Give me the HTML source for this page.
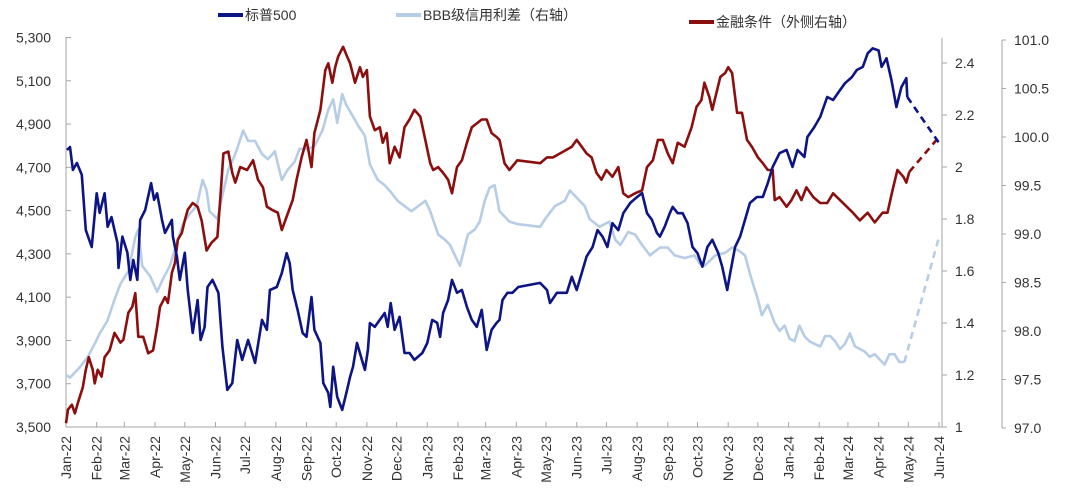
<!DOCTYPE html>
<html><head><meta charset="utf-8"><style>
body{margin:0;background:#fff;}
svg{display:block;font-family:"Liberation Sans","Noto Sans CJK SC",sans-serif;}
</style></head><body>
<svg id="chart" width="1080" height="499" viewBox="0 0 1080 499" xmlns="http://www.w3.org/2000/svg">
<g>
<g><line x1="218" y1="15" x2="243" y2="15" stroke="#0d1484" stroke-width="4"/><text x="245" y="20" font-size="14" fill="#333">标普500</text></g>
<g><line x1="396" y1="15" x2="421" y2="15" stroke="#b7cde6" stroke-width="4"/><text x="423" y="20" font-size="14" fill="#333">BBB级信用利差（右轴）</text></g>
<g><line x1="689" y1="22" x2="714" y2="22" stroke="#8b0f0f" stroke-width="4"/><text x="716" y="27" font-size="14" fill="#333">金融条件（外侧右轴）</text></g>
</g>
<g id="axes"></g>
<g id="series"></g>
</svg>
<script>
const monthLabels=["Jan-22","Feb-22","Mar-22","Apr-22","May-22","Jun-22","Jul-22","Aug-22","Sep-22","Oct-22","Nov-22","Dec-22","Jan-23","Feb-23","Mar-23","Apr-23","May-23","Jun-23","Jul-23","Aug-23","Sep-23","Oct-23","Nov-23","Dec-23","Jan-24","Feb-24","Mar-24","Apr-24","May-24","Jun-24"];
const monthDays=[0,31,59,90,120,151,181,212,243,273,304,334,365,396,424,455,485,516,546,577,608,638,669,699,730,761,790,821,851,882];
const leftTicks=[3500,3700,3900,4100,4300,4500,4700,4900,5100,5300];
const rightTicks=[1,1.2,1.4,1.6,1.8,2,2.2,2.4];
const outerTicks=[97.0,97.5,98.0,98.5,99.0,99.5,100.0,100.5,101.0];

const spDays=[1,4,7,11,16,20,26,31,34,39,42,46,52,53,57,62,65,68,72,75,80,86,89,92,97,100,107,108,112,115,120,123,128,133,136,140,143,148,154,158,163,168,173,178,184,191,198,203,206,213,218,223,226,229,234,239,243,248,251,257,260,265,267,270,274,279,284,287,290,294,299,302,305,307,312,317,322,325,328,332,337,342,347,352,360,365,370,375,378,381,386,390,395,400,405,410,415,420,425,430,435,438,441,446,451,457,479,486,489,496,506,511,516,521,526,532,537,542,547,552,558,563,570,577,582,587,592,597,600,605,610,613,618,623,628,633,638,643,648,653,659,663,668,671,676,681,686,691,698,704,709,714,721,728,734,739,746,749,756,762,769,775,782,787,794,799,805,810,815,821,824,829,834,839,844,849,850];
const spVals=[4780,4794,4688,4720,4665,4410,4332,4580,4490,4580,4425,4470,4350,4235,4380,4305,4180,4272,4180,4457,4503,4627,4550,4580,4457,4397,4457,4380,4288,4180,4305,4135,3935,4087,3902,3962,4147,4180,4120,3871,3672,3703,3902,3810,3902,3796,3995,3949,4133,4147,4211,4303,4257,4133,4041,3935,3917,4101,3949,3888,3703,3657,3593,3778,3639,3579,3672,3732,3778,3888,3810,3764,3856,3980,3963,3995,4027,3963,4073,3949,4009,3842,3842,3810,3842,3888,3995,3981,3917,4027,4087,4180,4120,4133,4055,3995,3963,4041,3856,3949,3981,3995,4087,4120,4120,4147,4166,4133,4073,4120,4120,4194,4133,4211,4288,4332,4410,4380,4332,4442,4410,4488,4535,4563,4581,4488,4457,4397,4380,4427,4488,4517,4488,4488,4442,4332,4303,4241,4332,4365,4303,4241,4133,4211,4332,4380,4457,4535,4563,4563,4627,4702,4766,4780,4702,4780,4748,4840,4886,4933,5025,5011,5057,5089,5117,5150,5164,5227,5250,5240,5164,5204,5102,4979,5071,5112,5025];
const spForecastDays=[850,882];
const spForecastVals=[5025,4813];

const bbbDays=[0,4,14,22,29,34,42,49,55,63,70,73,77,85,92,98,105,113,118,125,132,138,142,145,153,158,164,171,179,184,191,198,204,211,218,224,231,236,244,251,259,265,270,274,279,283,289,295,302,307,315,322,329,335,342,349,356,363,368,376,383,388,393,398,406,413,418,423,428,433,438,443,448,457,479,484,494,504,509,514,519,524,529,539,549,555,560,568,575,582,590,600,608,615,625,635,640,645,656,666,673,679,686,691,699,703,709,716,721,726,731,736,741,746,751,756,762,767,772,777,782,787,792,797,802,807,812,817,822,827,832,837,842,847];
const bbbVals=[1.20,1.19,1.23,1.27,1.32,1.36,1.41,1.49,1.55,1.60,1.73,1.76,1.62,1.58,1.52,1.57,1.62,1.72,1.78,1.82,1.85,1.95,1.91,1.83,1.80,1.89,1.99,2.05,2.14,2.10,2.10,2.05,2.03,2.06,1.95,1.99,2.02,2.07,2.07,2.08,2.14,2.22,2.26,2.17,2.28,2.24,2.20,2.16,2.12,2.01,1.95,1.93,1.90,1.87,1.85,1.83,1.85,1.87,1.83,1.74,1.72,1.70,1.66,1.62,1.74,1.76,1.79,1.87,1.92,1.93,1.83,1.81,1.79,1.78,1.77,1.80,1.85,1.87,1.91,1.89,1.87,1.85,1.80,1.77,1.79,1.72,1.70,1.75,1.74,1.70,1.66,1.69,1.69,1.66,1.65,1.66,1.63,1.62,1.66,1.67,1.69,1.68,1.66,1.59,1.49,1.43,1.47,1.40,1.37,1.39,1.34,1.33,1.39,1.35,1.33,1.32,1.31,1.35,1.35,1.33,1.30,1.32,1.36,1.31,1.30,1.29,1.27,1.28,1.26,1.24,1.28,1.28,1.25,1.25];
const bbbForecastDays=[847,882];
const bbbForecastVals=[1.25,1.73];

const fciDays=[0,2,6,9,12,17,20,23,27,29,32,36,39,44,49,55,58,63,67,70,73,78,83,88,92,95,100,103,107,110,113,117,120,123,128,133,137,142,147,153,156,159,164,168,171,176,183,189,194,199,203,208,214,218,223,229,233,238,243,248,251,257,262,265,269,272,275,280,284,287,292,297,300,304,307,312,317,320,324,327,332,337,342,347,352,358,363,368,371,376,381,386,390,395,400,405,410,415,420,425,430,435,438,443,448,456,479,486,492,499,506,511,516,521,526,531,536,541,546,552,558,563,568,575,582,587,593,598,603,608,613,618,625,632,637,642,645,650,653,661,666,669,673,678,683,688,693,699,704,709,714,716,721,728,733,738,743,748,755,762,769,775,782,789,795,802,810,817,825,830,835,840,846,849,852];
const fciVals=[97.05,97.19,97.24,97.15,97.26,97.42,97.60,97.73,97.60,97.46,97.60,97.53,97.73,97.80,97.98,97.88,97.91,98.19,98.25,98.39,97.94,97.94,97.77,97.80,98.04,98.25,98.35,98.29,98.60,98.70,98.94,99.01,99.14,99.25,99.32,99.28,99.14,98.83,98.91,98.97,99.38,99.83,99.85,99.63,99.53,99.69,99.66,99.76,99.56,99.48,99.28,99.25,99.22,99.04,99.18,99.35,99.56,99.79,99.97,99.69,100.04,100.28,100.69,100.76,100.56,100.72,100.83,100.93,100.83,100.76,100.56,100.72,100.62,100.69,100.21,100.07,100.10,99.94,100.04,99.73,99.90,99.79,100.10,100.18,100.28,100.21,99.97,99.73,99.66,99.69,99.63,99.56,99.42,99.69,99.76,99.94,100.10,100.14,100.18,100.18,100.04,100.00,99.97,99.73,99.66,99.76,99.73,99.79,99.79,99.83,99.87,99.90,99.97,99.90,99.83,99.79,99.63,99.56,99.66,99.59,99.69,99.42,99.38,99.42,99.45,99.69,99.76,99.97,99.97,99.83,99.73,99.94,99.90,100.10,100.31,100.38,100.56,100.41,100.28,100.62,100.66,100.72,100.66,100.25,100.25,99.97,99.90,99.79,99.73,99.66,99.66,99.35,99.38,99.28,99.35,99.45,99.35,99.48,99.38,99.32,99.32,99.42,99.35,99.28,99.22,99.14,99.22,99.12,99.22,99.22,99.45,99.66,99.59,99.53,99.64];
const fciForecastDays=[852,882];
const fciForecastVals=[99.64,100.0];

const NS="http://www.w3.org/2000/svg";
const X0=66,X1=939,YB=427;
function xs(d){return X0+(d/882)*(X1-X0);}
function yL(v){return YB-(v-3500)/1800*(YB-37.5);}
function yR(v){return YB-(v-1)/1.4*(YB-63);}
function yO(v){return 428-(v-97)/4*(428-40);}
function mk(tag,attrs,parent){const e=document.createElementNS(NS,tag);for(const k in attrs)e.setAttribute(k,attrs[k]);parent.appendChild(e);return e;}
const axes=document.getElementById('axes');
const series=document.getElementById('series');
const AX="#a6a6a6",TX="#333";
// left axis
let l=mk('line',{x1:X0,y1:37,x2:X0,y2:YB,stroke:AX,'stroke-width':1},axes);


leftTicks.forEach(v=>{const y=yL(v);
 const t=mk('line',{x1:X0,y1:y,x2:X0+5,y2:y,stroke:AX},axes);
 
 
 const tx=mk('text',{x:51,y:y+5,'text-anchor':'end','font-size':14,fill:TX},axes);
 tx.textContent=v.toLocaleString('en-US');
 
 });
// bottom axis
let b=mk('line',{x1:X0,y1:YB,x2:947,y2:YB,stroke:AX},axes);


monthDays.forEach((d,i)=>{const x=xs(d);
 const t=mk('line',{x1:x,y1:YB,x2:x,y2:YB-5,stroke:AX},axes);
 
 
 const tx=mk('text',{x:0,y:0,'text-anchor':'end','font-size':14,fill:TX,transform:`translate(${x+5},436) rotate(-90)`},axes);
 tx.textContent=monthLabels[i];
 
 });
// right axis
let r=mk('line',{x1:942,y1:38,x2:942,y2:YB,stroke:AX},axes);


rightTicks.forEach(v=>{const y=yR(v);
 const t=mk('line',{x1:942,y1:y,x2:947,y2:y,stroke:AX},axes);
 
 
 const tx=mk('text',{x:955,y:y+5,'font-size':14,fill:TX},axes);
 tx.textContent=String(v);
 
 });
// outer axis
let o=mk('line',{x1:1002,y1:40,x2:1002,y2:428,stroke:AX},axes);


outerTicks.forEach(v=>{const y=yO(v);
 const t=mk('line',{x1:1002,y1:y,x2:1006,y2:y,stroke:AX},axes);
 
 
 const tx=mk('text',{x:1014,y:y+5,'font-size':14,fill:TX},axes);
 tx.textContent=v.toFixed(1);
 
 });
function line(days,vals,yf,color,dash,name){
 const pts=days.map((d,i)=>xs(d).toFixed(1)+','+yf(vals[i]).toFixed(1)).join(' ');
 const p=mk('polyline',{points:pts,fill:'none',stroke:color,'stroke-width':2.6,'stroke-linejoin':'round'},series);
 if(dash)p.setAttribute('stroke-dasharray','7,5');
 
 
}
line(bbbDays,bbbVals,yR,'#b7cde6',false,'bbb-spread-line');
line(bbbForecastDays,bbbForecastVals,yR,'#b7cde6',true,'bbb-spread-forecast');
line(fciDays,fciVals,yO,'#8b0f0f',false,'financial-conditions-line');
line(fciForecastDays,fciForecastVals,yO,'#8b0f0f',true,'financial-conditions-forecast');
line(spDays,spVals,yL,'#0d1484',false,'sp500-line');
line(spForecastDays,spForecastVals,yL,'#0d1484',true,'sp500-forecast');
</script>
</body></html>
